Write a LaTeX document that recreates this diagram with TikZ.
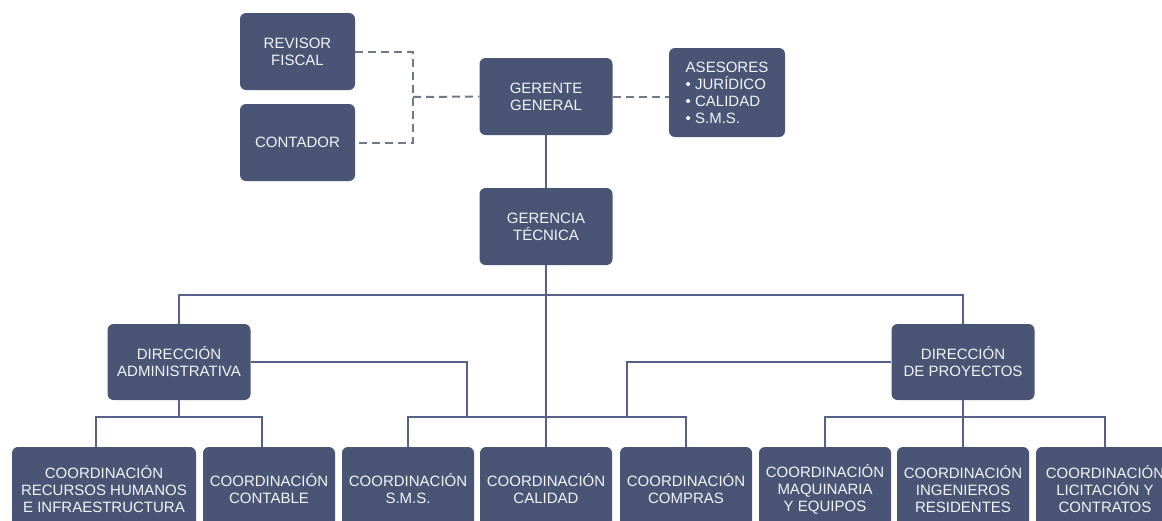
\documentclass[tikz,border=0pt]{standalone}
\usepackage{fontspec}
\setmainfont{Liberation Sans}
\begin{document}
\definecolor{boxc}{HTML}{4A5576}
\definecolor{linec}{HTML}{56618A}
\definecolor{dashc}{HTML}{737886}
\definecolor{txtc}{HTML}{F2F4F8}
\begin{tikzpicture}[x=1pt,y=-1pt,
  box/.style={fill=boxc, rounded corners=6pt, text=txtc, align=center,
    inner sep=0pt, font=\fontsize{15}{17}\selectfont},
  wire/.style={draw=linec, line width=1.7pt},
  dwire/.style={draw=dashc, line width=2pt, dash pattern=on 8pt off 5pt}]
\useasboundingbox (0,0) rectangle (1162,520);
\fill[white] (0,0) rectangle (1162,520);

% top level
\node[box, minimum width=115pt, minimum height=77pt] (rev) at (297.5,51.5) {REVISOR\\FISCAL};
\node[box, minimum width=115pt, minimum height=77pt] (cont) at (297.5,142.5) {CONTADOR};
\node[box, minimum width=133pt, minimum height=77pt] (ger) at (546,96.5) {GERENTE\\GENERAL};
\node[box, minimum width=116pt, minimum height=89pt, align=left] (ase) at (727,92.5)
  {ASESORES\\• JURÍDICO\\• CALIDAD\\• S.M.S.};
\node[box, minimum width=133pt, minimum height=77pt] (gt) at (546,226.5) {GERENCIA\\TÉCNICA};

% directions
\node[box, minimum width=143pt, minimum height=76pt] (dadm) at (179,362) {DIRECCIÓN\\ADMINISTRATIVA};
\node[box, minimum width=143pt, minimum height=76pt] (dproy) at (963,362) {DIRECCIÓN\\DE PROYECTOS};

% coordinations
\begin{scope}[every node/.append style={box, minimum height=84pt}]
\node[minimum width=184pt] (rh)   at (104,489) {COORDINACIÓN\\RECURSOS HUMANOS\\E INFRAESTRUCTURA};
\node[minimum width=132pt] (ccon) at (269,489) {COORDINACIÓN\\CONTABLE};
\node[minimum width=132pt] (csms) at (408,489) {COORDINACIÓN\\S.M.S.};
\node[minimum width=132pt] (ccal) at (546,489) {COORDINACIÓN\\CALIDAD};
\node[minimum width=132pt] (ccom) at (686,489) {COORDINACIÓN\\COMPRAS};
\node[minimum width=132pt] (cmaq) at (825,489) {COORDINACIÓN\\MAQUINARIA\\Y EQUIPOS};
\node[minimum width=132pt] (cing) at (963,489) {COORDINACIÓN\\INGENIEROS\\RESIDENTES};
\node[minimum width=138pt] (clic) at (1105,489) {COORDINACIÓN\\LICITACIÓN Y\\CONTRATOS};
\end{scope}

% junction points
\coordinate (dj) at (413,97);
\coordinate (bus) at (546,295);
\coordinate (ab) at (179,417);
\coordinate (mb) at (546,417);
\coordinate (jl) at (467,417);
\coordinate (jr) at (627,417);
\coordinate (pb) at (963,417);

% advisory links
\draw[dwire] (rev.east) -| (dj) |- (cont.east);
\draw[dwire] (dj) -- (ger.west);
\draw[dwire] (ger.east) -- (ger.east -| ase.west);

% line of authority
\draw[wire] (ger.south) -- (gt.north);
\draw[wire] (gt.south) -- (ccal.north);
\draw[wire] (dadm.north) |- (bus) -| (dproy.north);

\draw[wire] (dadm.south) -- (ab);
\draw[wire] ([xshift=-8pt]rh.north) |- (ab) -| ([xshift=-7pt]ccon.north);

\draw[wire] (dadm.east) -| (jl);
\draw[wire] (dproy.west) -| (jr);
\draw[wire] (csms.north) |- (mb) -| (ccom.north);

\draw[wire] (dproy.south) -- (cing.north);
\draw[wire] (cmaq.north) |- (pb) -| (clic.north);
\end{tikzpicture}
\end{document}
